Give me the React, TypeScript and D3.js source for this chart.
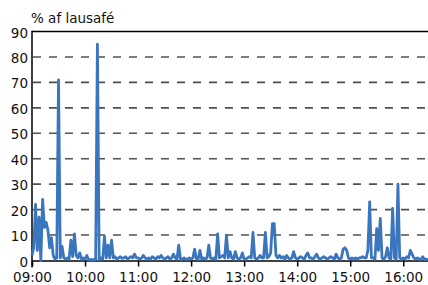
import React, { useRef, useEffect } from 'react';
import * as d3 from 'd3';

// intraday share of liquidity, one reading every 2 minutes from 09:00
const startTime = '09:00';
const endTime = '16:28';
const stepMinutes = 2;
const hourTicks = ['09:00', '10:00', '11:00', '12:00', '13:00', '14:00', '15:00', '16:00'];
const yTicks = [0, 10, 20, 30, 40, 50, 60, 70, 80, 90];
const yLabel = '% af lausafé';

const liquidityShare = [
  // 09:00
  2, 5, 22, 4, 17, 0, 24, 13, 15, 12, 5, 9, 2, 0.5, 1,
  // 09:30
  71, 1, 5.5, 1, 0.5, 1, 0.5, 8, 1.5, 10.5, 2, 1, 3, 0.5, 1,
  // 10:00
  0.5, 2, 0.3, 0.3, 0.3, 0.3, 0.3, 85, 0.3, 1, 0.5, 9.5, 1, 6, 1,
  // 10:30
  8, 1, 1.5, 0.5, 1, 1.5, 0.8, 1, 1.5, 0.5, 1, 1.5, 1, 2.5, 1,
  // 11:00
  1, 0.5, 1, 2, 1, 0.5, 1, 0.5, 1.5, 1, 0.5, 1.5, 1, 2, 1,
  // 11:30
  0.5, 1, 1.5, 0.5, 1, 2.5, 1, 0.5, 6, 0.5, 0.5, 1, 0.5, 0.5, 1,
  // 12:00
  0.5, 1, 4.5, 0.5, 0.5, 4, 0.5, 1, 0.5, 1, 6, 1, 0.5, 1, 0.5,
  // 12:30
  10.5, 1, 1.5, 2, 1, 10, 1, 3.5, 1, 0.5, 3.5, 1, 0.5, 1, 3,
  // 13:00
  0.5, 0.5, 1, 1.5, 1, 11, 1, 0.5, 1, 2, 1, 1, 11, 1, 1.5,
  // 13:30
  3, 14.5, 14.5, 2, 1, 2, 1, 1.5, 0.5, 2, 1, 0.5, 1, 3.5, 1,
  // 14:00
  0.5, 1, 1.5, 1, 0.5, 2, 3, 1, 1, 0.5, 1.5, 2.5, 1, 0.5, 1,
  // 14:30
  1.5, 1, 0.5, 1, 1.5, 1, 0.5, 2.5, 1, 0.5, 1, 4.5, 5, 4, 1,
  // 15:00
  0.5, 1, 0.5, 1, 0.5, 1, 1, 1.5, 1, 1, 4, 23, 1, 1, 0.5,
  // 15:30
  12.5, 4, 16.5, 1, 0.5, 1.5, 5, 1, 0.5, 20.5, 1, 0.5, 30, 1, 0.5,
  // 16:00
  1, 0.5, 1.5, 1, 4, 2.5, 1, 0.5, 1, 0.5, 0.5, 1.5, 0.5, 0.5, 0.3,
];

const width = 428;
const height = 285;
const margin = { top: 31.5, right: 0, bottom: 24, left: 32 };
const font = '"DejaVu Sans", sans-serif';

const parseTime = d3.timeParse('%H:%M');

const LiquidityChart = () => {
  const ref = useRef<SVGSVGElement | null>(null);

  useEffect(() => {
    if (!ref.current) return;
    const svg = d3.select(ref.current);
    svg.selectAll('*').remove();

    const start = parseTime(startTime) as Date;
    const points = liquidityShare.map((v, i) => ({
      t: d3.timeMinute.offset(start, i * stepMinutes),
      v,
    }));

    const x = d3.scaleTime()
      .domain([start, parseTime(endTime) as Date])
      .range([margin.left, width - margin.right]);

    const y = d3.scaleLinear()
      .domain([0, 90])
      .range([height - margin.bottom - 0.5, margin.top]);

    // dashed gridlines
    svg.append('g')
      .selectAll('line')
      .data(yTicks.filter(d => d > 0 && d < 90))
      .enter()
      .append('line')
      .attr('x1', margin.left + 1)
      .attr('x2', width)
      .attr('y1', d => y(d))
      .attr('y2', d => y(d))
      .attr('stroke', '#505050')
      .attr('stroke-width', 1.6)
      .attr('stroke-dasharray', '8,8');

    // top frame line
    svg.append('line')
      .attr('x1', margin.left)
      .attr('x2', width)
      .attr('y1', y(90))
      .attr('y2', y(90))
      .attr('stroke', '#000')
      .attr('stroke-width', 1.5);

    // y labels
    svg.append('g')
      .selectAll('text')
      .data(yTicks)
      .enter()
      .append('text')
      .attr('x', 28)
      .attr('y', d => y(d) + 1)
      .attr('text-anchor', 'end')
      .attr('dominant-baseline', 'central')
      .attr('font-family', font)
      .attr('font-size', '13.5px')
      .attr('fill', '#111')
      .text(d => d);

    // left axis
    svg.append('line')
      .attr('x1', margin.left)
      .attr('x2', margin.left)
      .attr('y1', y(90) - 0.75)
      .attr('y2', y(0) + 7)
      .attr('stroke', '#000')
      .attr('stroke-width', 1.5);

    // bottom axis
    const xAxis = d3.axisBottom(x)
      .tickValues(hourTicks.map(h => parseTime(h) as Date))
      .tickFormat(d3.timeFormat('%H:%M') as any)
      .tickSize(6)
      .tickSizeOuter(0);

    const gx = svg.append('g')
      .attr('transform', `translate(0, ${y(0)})`)
      .call(xAxis);
    gx.select('.domain').attr('stroke', '#000').attr('stroke-width', 1.5);
    gx.selectAll('.tick line').attr('stroke', '#000').attr('stroke-width', 1.5);
    gx.selectAll('.tick text')
      .attr('font-family', font)
      .attr('font-size', '13.5px')
      .attr('fill', '#111')
      .attr('dy', '0.95em');

    // series
    const line = d3.line<{ t: Date; v: number }>()
      .x(d => x(d.t))
      .y(d => y(d.v));

    svg.append('path')
      .datum(points)
      .attr('d', line)
      .attr('fill', 'none')
      .attr('stroke', '#3a76bd')
      .attr('stroke-width', 2.8)
      .attr('stroke-linejoin', 'round');

    svg.append('text')
      .attr('x', 31)
      .attr('y', 23)
      .attr('font-family', font)
      .attr('font-size', '13.5px')
      .attr('fill', '#111')
      .text(yLabel);
  }, []);

  return (
    <svg
      ref={ref}
      width={width}
      height={height}
      style={{ position: 'absolute', left: 0, top: 0, background: '#fff' }}
    />
  );
};

export default function App() {
  return <LiquidityChart />;
}
